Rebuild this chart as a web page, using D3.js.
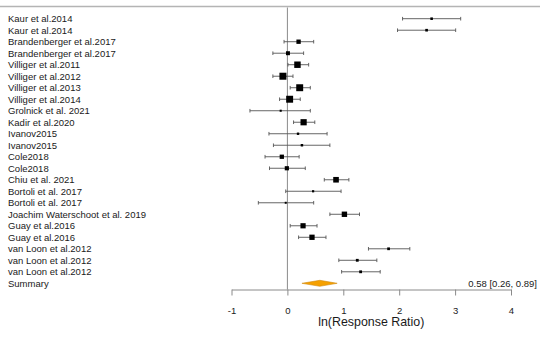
<!DOCTYPE html>
<html>
<head>
<meta charset="utf-8">
<script src="https://cdn.jsdelivr.net/npm/d3@7"></script>
<style>
  html, body { margin: 0; padding: 0; background: #fff; }
  svg { display: block; }
  text { font-family: "Liberation Sans", Arial, sans-serif; fill: #1a1a1a; }
</style>
</head>
<body>
<svg id="chart" width="540" height="340"></svg>
<script>
// Study labels, one per row
const studies = [
  "Kaur et al.2014", "Kaur et al.2014",
  "Brandenberger et al.2017", "Brandenberger et al.2017",
  "Villiger et al.2011", "Villiger et al.2012", "Villiger et al.2013", "Villiger et al.2014",
  "Grolnick et al. 2021", "Kadir et al.2020",
  "Ivanov2015", "Ivanov2015",
  "Cole2018", "Cole2018",
  "Chiu et al. 2021",
  "Bortoli et al. 2017", "Bortoli et al. 2017",
  "Joachim Waterschoot et al. 2019",
  "Guay et al.2016", "Guay et al.2016",
  "van Loon et al.2012", "van Loon et al.2012", "van Loon et al.2012"
];
// ln(response ratio) point estimates and 95% CI bounds
const estimates = [2.58, 2.49, 0.20, 0.01, 0.18, -0.08, 0.22, 0.04, -0.12, 0.29, 0.19, 0.26,
  -0.10, -0.01, 0.87, 0.46, -0.03, 1.02, 0.28, 0.44, 1.81, 1.25, 1.31];
const ciLower = [2.06, 1.97, -0.06, -0.26, 0.01, -0.26, 0.05, -0.14, -0.67, 0.11, -0.33, -0.25,
  -0.40, -0.32, 0.66, -0.03, -0.52, 0.76, 0.05, 0.20, 1.45, 0.92, 0.97];
const ciUpper = [3.10, 3.01, 0.47, 0.29, 0.38, 0.10, 0.41, 0.23, 0.41, 0.49, 0.71, 0.76,
  0.21, 0.32, 1.10, 0.96, 0.47, 1.29, 0.53, 0.69, 2.19, 1.60, 1.66];
// Study weights (%), shown through the square size
const weights = [1.5, 1.6, 4.3, 3.6, 9.5, 11.2, 11.0, 11.0, 1.0, 8.8, 1.3, 1.4,
  4.2, 4.0, 7.2, 1.1, 0.9, 6.6, 6.2, 6.4, 1.7, 1.8, 1.8];
// Pooled random-effects estimate
const summaryLabel = "Summary";
const summaryEstimate = 0.58;
const summaryLower = 0.26;
const summaryUpper = 0.89;
const xTicks = [-1, 0, 1, 2, 3, 4];
const xTitle = "ln(Response Ratio)";

const svg = d3.select("#chart");
const fmt = d3.format(".2f");

const rows = studies.map((s, i) => ({
  label: s, est: estimates[i], lo: ciLower[i], hi: ciUpper[i], w: weights[i], row: i
}));

const x = d3.scaleLinear().domain([-1, 4]).range([231.5, 511]);
const y = d3.scalePoint().domain(d3.range(studies.length + 1)).range([18.7, 283.3]);
const size = d3.scaleSqrt().domain([0, d3.max(weights)]).range([0, 7]);
const axisY = 289.5;

// top border rule
svg.append("line")
  .attr("x1", 0).attr("x2", 540).attr("y1", 6.5).attr("y2", 6.5)
  .attr("stroke", "#b4b4b4").attr("stroke-width", 1.6);

// reference line at zero
svg.append("line")
  .attr("x1", x(0)).attr("x2", x(0)).attr("y1", 7.5).attr("y2", axisY)
  .attr("stroke", "#8a8a8a").attr("stroke-width", 1);

// x axis
const axis = svg.append("g")
  .attr("transform", `translate(0,${axisY})`)
  .call(d3.axisBottom(x).tickValues(xTicks).tickSize(6).tickSizeOuter(0).tickPadding(12)
    .tickFormat(d => String(d)));
axis.select(".domain").attr("stroke", "#8a8a8a");
axis.selectAll(".tick line").attr("stroke", "#8a8a8a");
axis.selectAll(".tick text")
  .style("font-family", "'Liberation Sans', Arial, sans-serif")
  .attr("font-size", 9.5).attr("fill", "#1a1a1a");

svg.append("text")
  .attr("x", x(1.5)).attr("y", 326)
  .attr("text-anchor", "middle").attr("font-size", 12.4)
  .text(xTitle);

// study labels
svg.append("g").selectAll("text").data(rows).join("text")
  .attr("x", 8).attr("y", d => y(d.row)).attr("dy", "0.35em")
  .attr("font-size", 9.5)
  .text(d => d.label);

svg.append("text")
  .attr("x", 8).attr("y", y(studies.length)).attr("dy", "0.35em")
  .attr("font-size", 9.5).text(summaryLabel);

// confidence intervals
const ci = svg.append("g").attr("stroke", "#555").attr("stroke-width", 0.9);
ci.selectAll("line.ci").data(rows).join("line").attr("class", "ci")
  .attr("x1", d => x(d.lo)).attr("x2", d => x(d.hi))
  .attr("y1", d => y(d.row)).attr("y2", d => y(d.row));
ci.selectAll("line.capL").data(rows).join("line").attr("class", "capL")
  .attr("x1", d => x(d.lo)).attr("x2", d => x(d.lo))
  .attr("y1", d => y(d.row) - 1.8).attr("y2", d => y(d.row) + 1.8);
ci.selectAll("line.capR").data(rows).join("line").attr("class", "capR")
  .attr("x1", d => x(d.hi)).attr("x2", d => x(d.hi))
  .attr("y1", d => y(d.row) - 1.8).attr("y2", d => y(d.row) + 1.8);

// weighted squares
svg.append("g").selectAll("rect").data(rows).join("rect")
  .attr("x", d => x(d.est) - size(d.w) / 2)
  .attr("y", d => y(d.row) - size(d.w) / 2)
  .attr("width", d => size(d.w)).attr("height", d => size(d.w))
  .attr("fill", "#000");

// summary diamond
const sy = y(studies.length);
svg.append("path")
  .attr("d", `M${x(summaryLower)},${sy} L${x(summaryEstimate)},${sy - 3} L${x(summaryUpper)},${sy} L${x(summaryEstimate)},${sy + 3} Z`)
  .attr("fill", "#f5a000").attr("stroke", "#d08a10").attr("stroke-width", 0.6);

svg.append("text")
  .attr("x", 537).attr("y", sy).attr("dy", "0.35em")
  .attr("text-anchor", "end").attr("font-size", 9.5)
  .text(`${fmt(summaryEstimate)} [${fmt(summaryLower)}, ${fmt(summaryUpper)}]`);
</script>
</body>
</html>
